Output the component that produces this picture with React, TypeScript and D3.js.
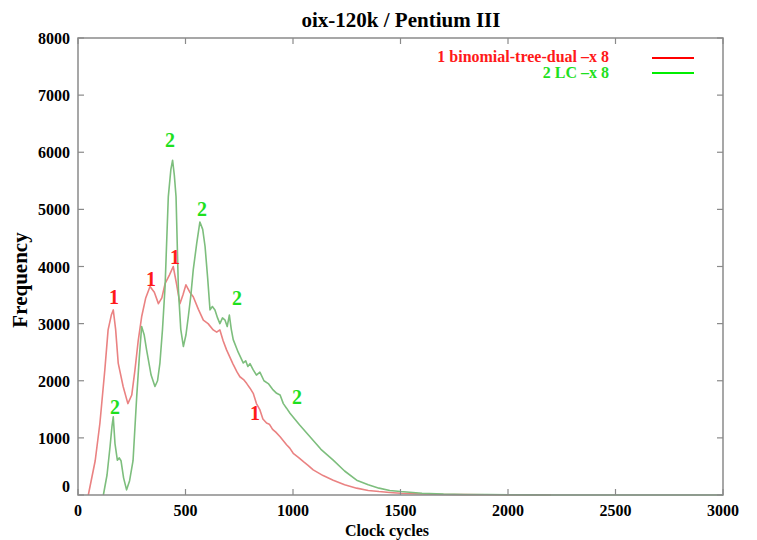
import React from "react";
import * as d3 from "d3";

const title = "oix-120k / Pentium III";
const xLabel = "Clock cycles";
const yLabel = "Frequency";
const xTicks = [0, 500, 1000, 1500, 2000, 2500, 3000];
const yTicks = [0, 1000, 2000, 3000, 4000, 5000, 6000, 7000, 8000];
const legendNames = ["1 binomial-tree-dual \u2013x 8", "2 LC \u2013x 8"];

const redX = [48, 80, 102, 125, 140, 155, 164, 175, 187, 210, 232, 250, 265, 280, 296, 315, 335, 355, 374, 390, 405, 425, 443, 458, 474, 488, 502, 520, 536, 560, 583, 605, 629, 645, 660, 675, 691, 720, 740, 753, 770, 785, 800, 815, 830, 845, 860, 877, 890, 905, 920, 940, 955, 970, 985, 1001, 1025, 1050, 1070, 1094, 1140, 1187, 1240, 1296, 1350, 1400, 1450, 1500, 1600, 1700, 1800, 1900, 2000, 2100, 2200];
const redY = [0, 600, 1260, 2200, 2890, 3150, 3240, 2900, 2310, 1900, 1600, 1750, 2190, 2700, 3120, 3450, 3650, 3550, 3350, 3450, 3700, 3850, 4000, 3700, 3350, 3500, 3680, 3550, 3470, 3250, 3060, 3000, 2890, 2850, 2890, 2700, 2540, 2300, 2150, 2070, 2020, 1950, 1870, 1780, 1600, 1500, 1330, 1260, 1240, 1150, 1100, 1020, 950, 880, 820, 730, 660, 580, 520, 440, 340, 260, 180, 120, 80, 60, 45, 30, 18, 10, 6, 4, 3, 2, 0];

const greenX = [118, 135, 149, 158, 164, 172, 183, 192, 200, 212, 226, 240, 256, 273, 285, 296, 308, 319, 340, 358, 370, 381, 393, 405, 420, 432, 440, 448, 456, 467, 478, 490, 502, 513, 525, 536, 552, 567, 580, 591, 603, 614, 625, 637, 649, 660, 672, 684, 694, 704, 713, 722, 745, 769, 780, 790, 800, 815, 830, 846, 865, 885, 905, 924, 940, 955, 970, 986, 1030, 1079, 1130, 1187, 1240, 1296, 1350, 1400, 1450, 1500, 1600, 1700, 1800, 1900, 2000, 2100, 2200, 2600, 3000];
const greenY = [0, 350, 845, 1200, 1370, 900, 610, 650, 600, 300, 90, 250, 600, 1720, 2400, 2950, 2800, 2540, 2100, 1900, 2000, 2310, 2900, 3650, 5220, 5700, 5860, 5600, 5220, 3590, 2900, 2600, 2800, 3120, 3500, 3940, 4400, 4780, 4650, 4350, 3800, 3240, 3300, 3240, 3100, 3000, 3100, 3060, 2950, 3150, 2900, 2720, 2500, 2310, 2350, 2250, 2300, 2190, 2100, 2150, 2000, 1950, 1850, 1780, 1750, 1600, 1520, 1430, 1230, 1020, 800, 610, 420, 260, 180, 120, 80, 60, 30, 15, 10, 8, 5, 3, 0, 0, 0];

const label1 = [
  { x: 167, y: 3465 },
  { x: 340, y: 3780 },
  { x: 451, y: 4165 },
  { x: 823, y: 1435 },
];
const label2 = [
  { x: 172, y: 1540 },
  { x: 428, y: 6210 },
  { x: 577, y: 5005 },
  { x: 740, y: 3450 },
  { x: 1019, y: 1715 },
];

const W = 757;
const H = 540;
const L = 78;
const R = 723;
const T = 38;
const B = 495;
const font = "'Liberation Serif', 'Times New Roman', serif";

export default function App() {
  const x = d3.scaleLinear().domain([0, 3000]).range([L, R]);
  const y = d3.scaleLinear().domain([0, 8000]).range([B, T]);
  const line = d3
    .line<[number, number]>()
    .x((d) => x(d[0]))
    .y((d) => y(d[1]));
  const redPts = redX.map((v, i) => [v, redY[i]] as [number, number]);
  const greenPts = greenX.map((v, i) => [v, greenY[i]] as [number, number]);
  const axisColor = "#8a8a8a";
  const redLine = "rgb(234,130,130)";
  const greenLine = "rgb(125,190,125)";
  const redText = "#ff1a1a";
  const greenText = "#1ee01e";

  return (
    <svg
      width={W}
      height={H}
      style={{ position: "absolute", left: 0, top: 0, background: "#fff" }}
      fontFamily={font}
    >
      <rect x={0} y={0} width={W} height={H} fill="#fff" />
      <text x={401} y={27} textAnchor="middle" fontWeight="bold" fontSize={21}>
        {title}
      </text>
      {/* curves */}
      <path d={line(redPts) || ""} fill="none" stroke={redLine} strokeWidth={1.6} strokeLinejoin="round" />
      <path d={line(greenPts) || ""} fill="none" stroke={greenLine} strokeWidth={1.6} strokeLinejoin="round" />
      {/* frame */}
      <rect x={L} y={T} width={R - L} height={B - T} fill="none" stroke={axisColor} strokeWidth={1.5} />
      {xTicks.map((t) => (
        <g key={"x" + t}>
          <line x1={x(t)} x2={x(t)} y1={B} y2={B - 6} stroke={axisColor} strokeWidth={1.2} />
          <line x1={x(t)} x2={x(t)} y1={T} y2={T + 6} stroke={axisColor} strokeWidth={1.2} />
          <text x={x(t)} y={B + 21} textAnchor="middle" fontWeight="bold" fontSize={16}>
            {t}
          </text>
        </g>
      ))}
      {yTicks.map((t) => (
        <g key={"y" + t}>
          <line x1={L} x2={L + 6} y1={y(t)} y2={y(t)} stroke={axisColor} strokeWidth={1.2} />
          <line x1={R} x2={R - 6} y1={y(t)} y2={y(t)} stroke={axisColor} strokeWidth={1.2} />
          <text
            x={70}
            y={t === 0 ? y(t) - 3 : y(t) + 6}
            textAnchor="end"
            fontWeight="bold"
            fontSize={16}
          >
            {t}
          </text>
        </g>
      ))}
      <text x={387} y={536} textAnchor="middle" fontWeight="bold" fontSize={16}>
        {xLabel}
      </text>
      <text
        transform={`translate(27, ${280}) rotate(-90)`}
        textAnchor="middle"
        fontWeight="bold"
        fontSize={21}
      >
        {yLabel}
      </text>
      {/* curve labels */}
      {label1.map((p, i) => (
        <text key={"l1" + i} x={x(p.x)} y={y(p.y) + 7} textAnchor="middle" fontWeight="bold" fontSize={20} fill={redText}>
          1
        </text>
      ))}
      {label2.map((p, i) => (
        <text key={"l2" + i} x={x(p.x)} y={y(p.y) + 7} textAnchor="middle" fontWeight="bold" fontSize={20} fill={greenText}>
          2
        </text>
      ))}
      {/* legend */}
      <text x={609} y={62} textAnchor="end" fontWeight="bold" fontSize={16} fill={redText}>
        {legendNames[0]}
      </text>
      <line x1={652} x2={694} y1={58} y2={58} stroke="#ff0000" strokeWidth={2} />
      <text x={609} y={78} textAnchor="end" fontWeight="bold" fontSize={16} fill={greenText}>
        {legendNames[1]}
      </text>
      <line x1={652} x2={694} y1={73} y2={73} stroke="#00ee00" strokeWidth={2} />
    </svg>
  );
}
